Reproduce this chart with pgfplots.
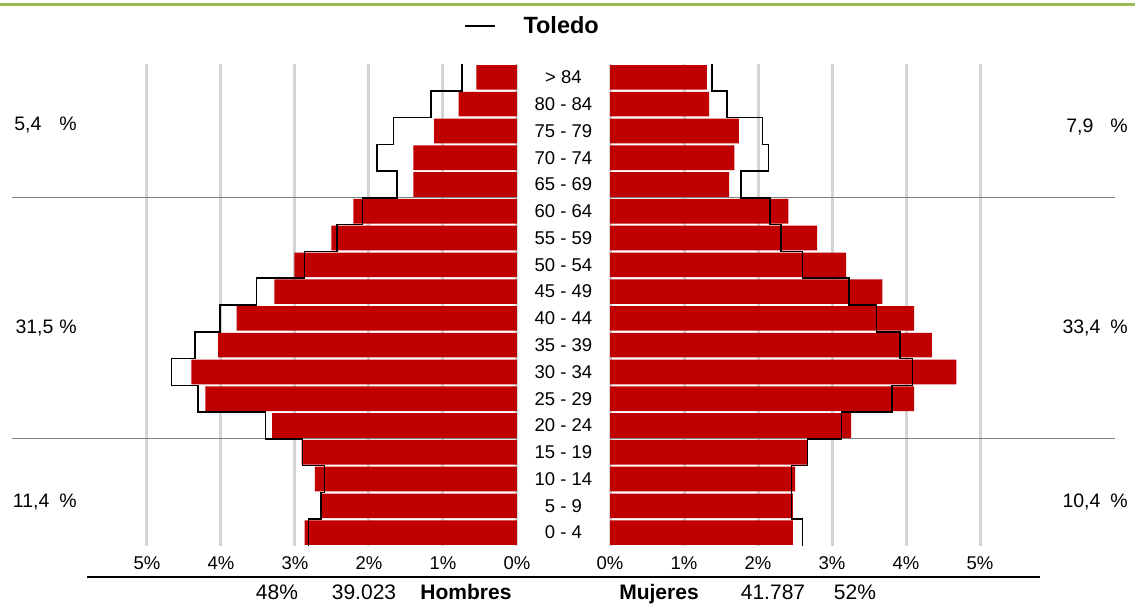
\documentclass[border=0pt]{standalone}
\usepackage{fontspec}
\setmainfont{Liberation Sans}
\usepackage{pgfplots}
\pgfplotsset{compat=1.18}
\definecolor{barred}{HTML}{C00000}
\definecolor{topgreen}{HTML}{9BBB59}
\definecolor{gridgray}{HTML}{D4D4D4}
\definecolor{sepgray}{HTML}{808080}

\pgfplotsset{
  pyr/.style={
    scale only axis, width=370pt, height=482pt,
    xmin=0, xmax=5, ymin=-0.5, ymax=17.5,
    axis line style={draw=none},
    major tick length=0pt,
    xtick={0,1,2,3,4,5},
    xticklabels={0\%,1\%,2\%,3\%,4\%,5\%},
    xticklabel style={font=\fontsize{18.5}{21}\selectfont, anchor=center, yshift=-17pt},
    xmajorgrids,
    major grid style={gridgray, line width=3pt},
    bar width=0.92,
    clip=false,
  }
}

\begin{document}
\begin{tikzpicture}[x=1pt,y=1pt]
\useasboundingbox (0,0) rectangle (1135,603);
\draw[topgreen, line width=3.2pt] (0,598.5) -- (1135,598.5);

% ---------- Hombres ----------
\begin{axis}[pyr, x dir=reverse, at={(332pt,57pt)}, anchor=south, ytick=\empty]
\addplot[xbar, fill=barred, draw=none] coordinates {
 (2.87,0) (2.64,1) (2.73,2) (2.91,3) (3.31,4) (4.21,5) (4.40,6) (4.04,7) (3.79,8)
 (3.28,9) (3.01,10) (2.51,11) (2.21,12) (1.40,13) (1.40,14) (1.12,15) (0.79,16) (0.55,17)};
\draw[sepgray, line width=1.1pt] (axis cs:0,12.5) -- (axis cs:6.82,12.5);
\draw[sepgray, line width=1.1pt] (axis cs:0,3.5) -- (axis cs:6.82,3.5);
\addplot[black, line width=1.6pt, mark=none] coordinates {
 (2.82,-0.5)(2.82,0.5)(2.65,0.5)(2.65,1.5)(2.60,1.5)(2.60,2.5)(2.90,2.5)(2.90,3.5)
 (3.40,3.5)(3.40,4.5)(4.31,4.5)(4.31,5.5)(4.67,5.5)(4.67,6.5)(4.35,6.5)(4.35,7.5)
 (4.01,7.5)(4.01,8.5)(3.52,8.5)(3.52,9.5)(2.87,9.5)(2.87,10.5)(2.43,10.5)(2.43,11.5)
 (2.09,11.5)(2.09,12.5)(1.62,12.5)(1.62,13.5)(1.89,13.5)(1.89,14.5)(1.67,14.5)(1.67,15.5)
 (1.16,15.5)(1.16,16.5)(0.74,16.5)(0.74,17.5)};
\end{axis}

% ---------- Mujeres ----------
\begin{axis}[pyr, at={(795pt,57pt)}, anchor=south,
  ytick={0,1,...,17},
  yticklabels={0 - 4,5 - 9,10 - 14,15 - 19,20 - 24,25 - 29,30 - 34,35 - 39,40 - 44,45 - 49,50 - 54,55 - 59,60 - 64,65 - 69,70 - 74,75 - 79,80 - 84,> 84},
  yticklabel style={font=\fontsize{18.5}{21}\selectfont, anchor=center, xshift=-46.5pt},
  legend style={draw=none, fill=none, inner sep=0pt, outer sep=0pt,
    column sep=28pt, nodes={inner sep=0pt},
    at={(axis description cs:-0.3946,1.0788)}, anchor=west,
    font=\bfseries\fontsize{23.5}{27}\selectfont},
  legend image code/.code={\draw[black, line width=1.5pt] (0pt,0pt) -- (30pt,0pt);},
]
\addplot[xbar, fill=barred, draw=none, forget plot] coordinates {
 (2.47,0) (2.47,1) (2.50,2) (2.66,3) (3.26,4) (4.11,5) (4.68,6) (4.35,7) (4.11,8)
 (3.68,9) (3.19,10) (2.80,11) (2.41,12) (1.61,13) (1.68,14) (1.74,15) (1.34,16) (1.31,17)};
\draw[sepgray, line width=1.1pt] (axis cs:0,12.5) -- (axis cs:6.82,12.5);
\draw[sepgray, line width=1.1pt] (axis cs:0,3.5) -- (axis cs:6.82,3.5);
\addplot[black, line width=1.6pt, mark=none] coordinates {
 (2.60,-0.5)(2.60,0.5)(2.45,0.5)(2.45,1.5)(2.45,1.5)(2.45,2.5)(2.67,2.5)(2.67,3.5)
 (3.13,3.5)(3.13,4.5)(3.81,4.5)(3.81,5.5)(4.09,5.5)(4.09,6.5)(3.92,6.5)(3.92,7.5)
 (3.60,7.5)(3.60,8.5)(3.23,8.5)(3.23,9.5)(2.60,9.5)(2.60,10.5)(2.31,10.5)(2.31,11.5)
 (2.16,11.5)(2.16,12.5)(1.77,12.5)(1.77,13.5)(2.14,13.5)(2.14,14.5)(2.06,14.5)(2.06,15.5)
 (1.58,15.5)(1.58,16.5)(1.38,16.5)(1.38,17.5)};
\addlegendentry{Toledo}
\end{axis}

% ---------- side shares ----------
\begin{scope}[every node/.style={font=\fontsize{19.5}{23}\selectfont, inner sep=0pt}]
\node[anchor=east] at (77,478) {5,4\hspace{18pt}\%};
\node[anchor=east] at (77,275) {31,5\hspace{6pt}\%};
\node[anchor=east] at (77,101) {11,4\hspace{10pt}\%};
\node[anchor=east] at (1128,476) {7,9\hspace{17pt}\%};
\node[anchor=east] at (1128,275) {33,4\hspace{10pt}\%};
\node[anchor=east] at (1128,101) {10,4\hspace{10pt}\%};
\end{scope}

% ---------- footer ----------
\draw[black, line width=1.3pt] (87,26) -- (1040,26);
\begin{scope}[every node/.style={font=\fontsize{21}{25}\selectfont, inner sep=0pt, anchor=base}]
\node at (277,4) {48\%};
\node at (364,4) {39.023};
\node at (466,4) {\bfseries Hombres};
\node at (659,4) {\bfseries Mujeres};
\node at (773,4) {41.787};
\node at (855,4) {52\%};
\end{scope}
\end{tikzpicture}
\end{document}
